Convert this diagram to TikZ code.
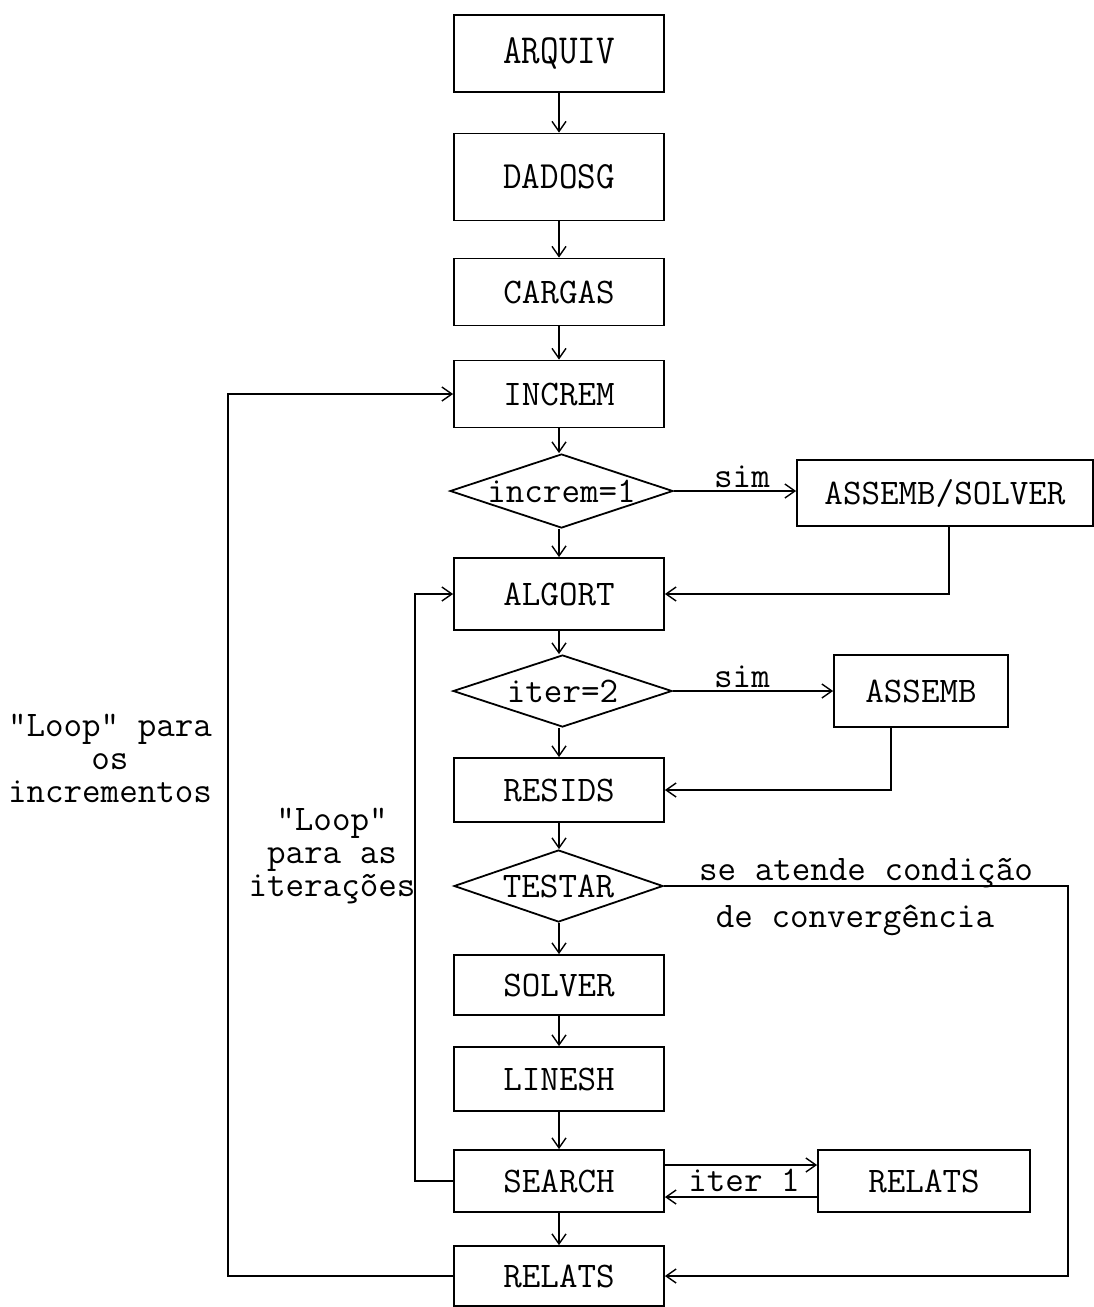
\documentclass[tikz,border=0pt]{standalone}
\usepackage{fontspec}
\usetikzlibrary{shapes.geometric,arrows.meta}
\tikzset{
  every node/.style={font=\ttfamily\fontsize{36}{33}\selectfont},
  box/.style={draw, line width=1.8pt, rectangle, inner sep=0pt, minimum width=210pt},
  dec/.style={draw, line width=1.8pt, diamond, aspect=3, inner sep=0pt},
  arr/.style={line width=1.8pt, -{Straight Barb[length=10pt,width=14pt,line width=1.4pt]}},
  lbl/.style={inner sep=0pt}
}
\begin{document}
\begin{tikzpicture}[x=1pt,y=-1pt]
\useasboundingbox (0,0) rectangle (1094,1307);
% main column
\node[box, minimum height=77pt] (arquiv) at (559,53.5) {\scalebox{1}[1.15]{ARQUIV}};
\node[box, minimum height=87pt] (dadosg) at (559,177) {\scalebox{1}[1.07]{DADOSG}};
\node[box, minimum height=67pt] (cargas) at (559,292) {CARGAS};
\node[box, minimum height=67pt] (increm) at (559,394) {INCREM};
\node[dec, minimum width=223pt, minimum height=74pt] (d1) at (561.5,491) {increm=1};
\node[box, minimum height=72pt] (algort) at (559,594) {ALGORT};
\node[dec, minimum width=219pt, minimum height=72pt] (d2) at (562.5,691) {iter=2};
\node[box, minimum height=64pt] (resids) at (559,790) {RESIDS};
\node[dec, minimum width=209pt, minimum height=72pt] (d3) at (558.5,886) {TESTAR};
\node[box, minimum height=60pt] (solver) at (559,985) {SOLVER};
\node[box, minimum height=64pt] (linesh) at (559,1079) {LINESH};
\node[box, minimum height=62pt] (search) at (559,1181) {SEARCH};
\node[box, minimum height=60pt] (relats) at (559,1276) {RELATS};
% side boxes
\node[box, minimum width=296pt, minimum height=66pt] (asssolv) at (945,493) {ASSEMB/SOLVER};
\node[box, minimum width=174pt, minimum height=72pt] (assemb) at (921,691) {ASSEMB};
\node[box, minimum width=212pt, minimum height=62pt] (relatsb) at (924,1181) {RELATS};
% helper coordinates
\coordinate (L1) at (228,0);
\coordinate (L2) at (415,0);
\coordinate (R1) at (1068,886);
% vertical flow
\draw[arr] (arquiv.south) -- (dadosg.north);
\draw[arr] (dadosg.south) -- (cargas.north);
\draw[arr] (cargas.south) -- (increm.north);
\draw[arr] (increm.south) -- (increm.south |- d1.north);
\draw[arr] (d1.south -| algort.north) -- (algort.north);
\draw[arr] (algort.south) -- (algort.south |- d2.north);
\draw[arr] (d2.south -| resids.north) -- (resids.north);
\draw[arr] (resids.south) -- (resids.south |- d3.north);
\draw[arr] (d3.south -| solver.north) -- (solver.north);
\draw[arr] (solver.south) -- (linesh.north);
\draw[arr] (linesh.south) -- (search.north);
\draw[arr] (search.south) -- (relats.north);
% branches
\draw[arr] (d1.east) -- (d1.east -| asssolv.west);
\draw[arr] ([xshift=4pt]asssolv.south) |- (algort.east);
\draw[arr] (d2.east) -- (d2.east -| assemb.west);
\draw[arr] ([xshift=-30pt]assemb.south) |- (resids.east);
\draw[arr] (d3.east) -- (R1) |- (relats.east);
\draw[arr] ([yshift=16pt]search.east) -- ([yshift=16pt]relatsb.west);
\draw[arr] ([yshift=-16pt]relatsb.west) -- ([yshift=-16pt]search.east);
% loops
\draw[arr] (relats.west) -- (relats.west -| L1) |- (increm.west);
\draw[arr] (search.west) -- (search.west -| L2) |- (algort.west);
% labels
\node[lbl] (sim1) at (742,477) {sim};
\node[lbl] (sim2) at (742,677) {sim};
\node[lbl] (conv1) at (866,873) {se atende condição};
\node[lbl] (conv2) at (855,920) {de convergência};
\node[lbl] (it1) at (744,1180) {iter 1};
\node[lbl, align=center] (loopinc) at (110,758) {"Loop" para\\os\\incrementos};
\node[lbl, align=center] (loopit) at (332,856) {"Loop"\\para as\\iterações};
\end{tikzpicture}
\end{document}
